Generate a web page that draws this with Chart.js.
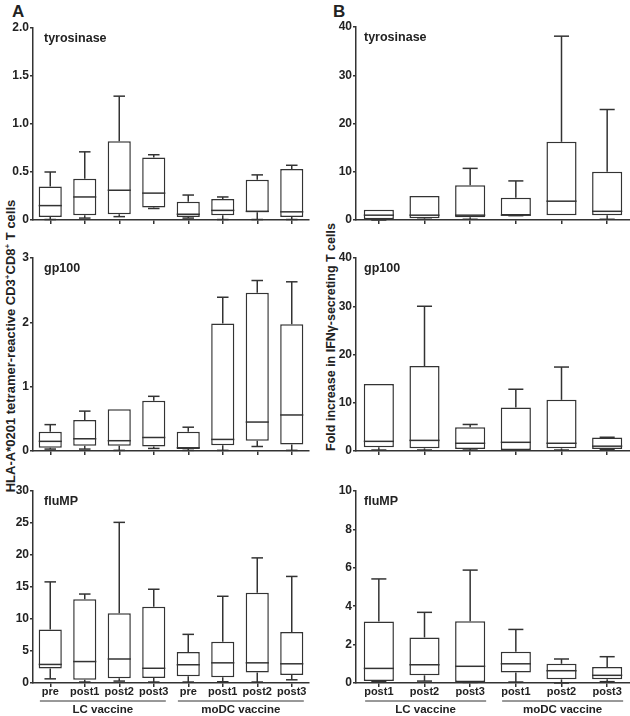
<!DOCTYPE html>
<html>
<head>
<meta charset="utf-8">
<script src="https://cdn.jsdelivr.net/npm/chart.js@4.4.0/dist/chart.umd.min.js"></script>
<style>
  body { margin: 0; background: #fff; }
  #fig { position: relative; width: 630px; height: 716px; font-family: Arial, "Liberation Sans", sans-serif; color: #222; }
  canvas { position: absolute; }
  .letter { position: absolute; font-weight: bold; font-size: 17px; line-height: 1; }
  .ytitle { position: absolute; font-weight: bold; white-space: nowrap; line-height: 1;
            transform: translate(-50%, -50%) rotate(-90deg); }
  sup { font-size: 8px; vertical-align: 5px; line-height: 0; }
</style>
</head>
<body>
<div id="fig">
  <div class="letter" style="left:12px;top:3px">A</div>
  <div class="letter" style="left:333px;top:3px">B</div>
  <div class="ytitle" style="left:10px;top:346px;font-size:13px">HLA-A*0201 tetramer-reactive CD3<sup>+</sup>CD8<sup>+</sup> T cells</div>
  <div class="ytitle" style="left:331px;top:337px;font-size:12.5px">Fold increase in IFNγ-secreting T cells</div>
  <canvas id="a1" width="318" height="236" style="left:0;top:0"></canvas>
  <canvas id="b1" width="312" height="236" style="left:318px;top:0"></canvas>
  <canvas id="a2" width="318" height="230" style="left:0;top:236px"></canvas>
  <canvas id="b2" width="312" height="230" style="left:318px;top:236px"></canvas>
  <canvas id="a3" width="318" height="250" style="left:0;top:466px"></canvas>
  <canvas id="b3" width="312" height="250" style="left:318px;top:466px"></canvas>
</div>
<script>
// categories
const catsA = ['pre', 'post1', 'post2', 'post3', 'pre', 'post1', 'post2', 'post3'];
const catsB = ['post1', 'post2', 'post3', 'post1', 'post2', 'post3'];
const groupsA = [['LC vaccine', 0, 3], ['moDC vaccine', 4, 7]];
const groupsB = [['LC vaccine', 0, 2], ['moDC vaccine', 3, 5]];

// box stats per group: [min, q1, median, q3, max]
const tyrosinaseA = [
  [0.005, 0.03, 0.15, 0.35, 0.50], [0.02, 0.05, 0.24, 0.43, 0.71],
  [0.035, 0.06, 0.31, 0.82, 1.29], [0.12, 0.13, 0.28, 0.65, 0.68],
  [0.02, 0.03, 0.06, 0.19, 0.26], [0.005, 0.05, 0.10, 0.22, 0.24],
  [0.005, 0.08, 0.09, 0.42, 0.47], [0.005, 0.03, 0.085, 0.53, 0.57]
];
const gp100A = [
  [0.03, 0.05, 0.15, 0.30, 0.41], [0.03, 0.08, 0.19, 0.48, 0.62],
  [0.01, 0.08, 0.16, 0.65, 0.65], [0.04, 0.07, 0.21, 0.78, 0.85],
  [0.01, 0.03, 0.05, 0.30, 0.37], [0.01, 0.09, 0.18, 1.98, 2.39],
  [0.07, 0.16, 0.45, 2.46, 2.65], [0.01, 0.10, 0.56, 1.97, 2.63]
];
const fluMPA = [
  [0.65, 2.25, 2.9, 8.35, 15.8], [0.15, 0.5, 3.35, 13.1, 13.9],
  [0.3, 0.75, 3.75, 10.9, 25.1], [0.15, 0.8, 2.3, 11.9, 14.65],
  [0.15, 1.05, 2.85, 4.85, 7.6], [0.2, 0.9, 3.15, 6.45, 13.55],
  [0.15, 1.65, 3.15, 14.1, 19.55], [0.5, 1.25, 3.0, 7.95, 16.65]
];
const tyrosinaseB = [
  [0.0, 0.15, 1.0, 2.1, 2.1], [0.15, 0.35, 1.0, 5.0, 5.0],
  [0.15, 0.55, 1.0, 7.2, 10.7], [0.9, 0.95, 1.0, 4.6, 8.1],
  [1.0, 1.0, 3.9, 16.2, 38.1], [0.15, 1.0, 1.8, 10.0, 22.9]
];
const gp100B = [
  [0.2, 0.8, 2.0, 13.9, 13.9], [0.2, 0.55, 2.2, 17.6, 30.0],
  [0.2, 0.4, 1.6, 4.9, 5.5], [0.2, 0.2, 1.8, 9.0, 12.8],
  [0.2, 0.55, 1.6, 10.6, 17.4], [0.35, 0.4, 1.0, 2.8, 2.85]
];
const fluMPB = [
  [0.07, 0.10, 0.76, 3.2, 5.42], [0.10, 0.40, 0.95, 2.37, 3.68],
  [0.03, 0.05, 0.87, 3.22, 5.88], [0.05, 0.55, 1.0, 1.63, 2.79],
  [0.0, 0.19, 0.64, 1.0, 1.25], [0.07, 0.19, 0.40, 0.83, 1.37]
];

const FONT = 'Arial, "Liberation Sans", sans-serif';
const INK = '#333';

// whiskers, caps, median and the panel label
const boxPlugin = {
  id: 'boxPlot',
  afterDatasetsDraw(chart) {
    const o = chart.options.plugins.boxPlot;
    const ctx = chart.ctx;
    const y = chart.scales.y;
    const meta = chart.getDatasetMeta(0);
    ctx.save();
    ctx.strokeStyle = INK;
    ctx.lineWidth = 1.5;
    meta.data.forEach((bar, i) => {
      const [lo, q1, med, q3, hi] = o.stats[i];
      const x = bar.x, w = bar.width;
      const seg = (x1, y1, x2, y2) => { ctx.beginPath(); ctx.moveTo(x1, y1); ctx.lineTo(x2, y2); ctx.stroke(); };
      const ym = y.getPixelForValue(med);
      seg(x - w / 2, ym, x + w / 2, ym);
      if (hi > q3) {
        const yh = y.getPixelForValue(hi);
        seg(x, y.getPixelForValue(q3), x, yh);
        seg(x - w / 4, yh, x + w / 4, yh);
      }
      if (lo < q1) {
        const yl = y.getPixelForValue(lo);
        seg(x, y.getPixelForValue(q1), x, yl);
        seg(x - w / 4, yl, x + w / 4, yl);
      }
    });
    ctx.fillStyle = '#222';
    ctx.font = 'bold 12.5px ' + FONT;
    ctx.textBaseline = 'middle';
    ctx.fillText(o.label, chart.chartArea.left + o.labelDx, chart.chartArea.top + 11);
    ctx.restore();
  },
  afterDraw(chart) {
    const o = chart.options.plugins.boxPlot;
    if (!o.groups) return;
    const ctx = chart.ctx;
    const xs = chart.scales.x;
    const step = xs.width / chart.data.labels.length;
    const yLine = chart.chartArea.bottom + 18;
    ctx.save();
    ctx.strokeStyle = INK;
    ctx.lineWidth = 1;
    ctx.fillStyle = '#222';
    ctx.font = 'bold 11.5px ' + FONT;
    ctx.textAlign = 'center';
    ctx.textBaseline = 'middle';
    o.groups.forEach(([name, from, to]) => {
      const x1 = xs.getPixelForValue(from) - 0.3 * step;
      const x2 = xs.getPixelForValue(to) + 0.35 * step;
      ctx.beginPath();
      ctx.moveTo(x1, yLine);
      ctx.lineTo(x2, yLine);
      ctx.stroke();
      ctx.fillText(name, (x1 + x2) / 2, yLine + 9);
    });
    ctx.restore();
  }
};

function renderBoxPanel(id, cats, stats, label, yMax, yStep, geo) {
  const canvas = document.getElementById(id);
  const axisGrid = (len) => ({
    display: true, drawOnChartArea: false, drawTicks: true, tickLength: len,
    offset: false, color: INK, lineWidth: 1.5
  });
  const config = {
    type: 'bar',
    data: {
      labels: cats,
      datasets: [{
        data: stats.map(s => [s[1], s[3]]),
        backgroundColor: '#fff',
        borderColor: INK,
        borderWidth: 1.5,
        borderSkipped: false,
        categoryPercentage: 1,
        barPercentage: geo.barPct
      }]
    },
    options: {
      responsive: false,
      animation: false,
      layout: { padding: { top: geo.top, right: geo.right, left: 0, bottom: 0 } },
      plugins: {
        legend: { display: false },
        tooltip: { enabled: false },
        boxPlot: { stats: stats, label: label, labelDx: geo.labelDx, groups: geo.groups }
      },
      scales: {
        x: {
          offset: true,
          grid: axisGrid(4),
          border: { display: true, color: INK, width: 1.5 },
          ticks: {
            display: !!geo.groups,
            autoSkip: false, maxRotation: 0, padding: -2,
            color: '#222',
            font: { family: FONT, size: 11, weight: 'bold' }
          },
          afterFit: s => { s.height = geo.xH; }
        },
        y: {
          min: 0, max: yMax,
          grid: axisGrid(3),
          border: { display: true, color: INK, width: 1.5 },
          ticks: {
            stepSize: yStep, padding: 1, color: '#222',
            font: { family: FONT, size: 12, weight: 'bold' },
            callback: geo.fmt || (v => v)
          },
          afterFit: s => { s.width = geo.yW; }
        }
      }
    },
    plugins: [boxPlugin]
  };
  new Chart(canvas, config);
}

const colA = { yW: 33, right: 9, barPct: 0.67, labelDx: 11 };
const colB = { yW: 38, right: 0, barPct: 0.66, labelDx: 8 };

renderBoxPanel('a1', catsA, tyrosinaseA, 'tyrosinase', 2, 0.5,
  Object.assign({}, colA, { top: 28, xH: 16, fmt: v => v === 0 ? '0' : v.toFixed(1) }));
renderBoxPanel('b1', catsB, tyrosinaseB, 'tyrosinase', 40, 10,
  Object.assign({}, colB, { top: 27, xH: 16 }));
renderBoxPanel('a2', catsA, gp100A, 'gp100', 3, 1,
  Object.assign({}, colA, { top: 22, xH: 15 }));
renderBoxPanel('b2', catsB, gp100B, 'gp100', 40, 10,
  Object.assign({}, colB, { top: 22, xH: 15 }));
renderBoxPanel('a3', catsA, fluMPA, 'fluMP', 30, 5,
  Object.assign({}, colA, { top: 25, xH: 33, groups: groupsA }));
renderBoxPanel('b3', catsB, fluMPB, 'fluMP', 10, 2,
  Object.assign({}, colB, { top: 25, xH: 33, groups: groupsB }));
</script>
</body>
</html>
